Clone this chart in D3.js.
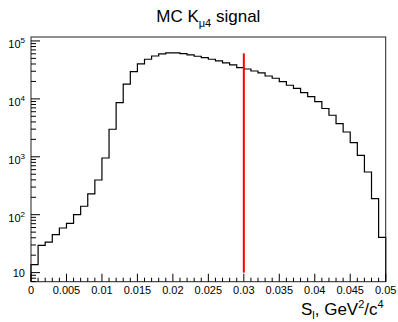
<!DOCTYPE html>
<html>
<head>
<meta charset="utf-8">
<script src="https://cdn.jsdelivr.net/npm/d3@7"></script>
<style>
  body { margin: 0; background: #fff; }
  svg { display: block; font-family: "Liberation Sans", Arial, sans-serif; }
</style>
</head>
<body>
<svg id="chart" width="398" height="322"></svg>
<script>
  // 50 bins of width 0.001 in S_l
  const BIN_WIDTH = 0.001;
  const counts = [
    13.7, 29.6, 33.7, 45.2, 58.9, 71, 100, 140, 228, 397,
    953, 2990, 8600, 17900, 29500, 40100, 48300, 55000, 59600, 62100,
    62100, 60400, 57300, 54400, 51500, 48300, 45200, 41700, 38500, 34600,
    32800, 30300, 28000, 24800, 22700, 19800, 17200, 15200, 12800, 10900,
    8950, 6820, 5210, 3730, 2680, 1750, 1060, 546, 189, 40.7
  ];
  const yDecades = [10, 100, 1000, 10000, 100000];
  const xTicks = [0, 0.005, 0.01, 0.015, 0.02, 0.025, 0.03, 0.035, 0.04, 0.045, 0.05];
  const cutX = 0.03;
  const cutRange = [10, 61000];

  const svg = d3.select("#chart");
  const L = 31, R = 385.7, T = 37, B = 281.7;

  const x = d3.scaleLinear().domain([0, 0.05]).range([L, R]);
  const y = d3.scaleLog().domain([6.97, 1.17e5]).range([B, T]);

  // histogram outline
  const pts = [[x(0), B]];
  counts.forEach((c, i) => {
    pts.push([x(i * BIN_WIDTH), y(c)]);
    pts.push([x((i + 1) * BIN_WIDTH), y(c)]);
  });
  pts.push([x(counts.length * BIN_WIDTH), B]);

  svg.append("path")
    .attr("d", d3.line()(pts))
    .attr("fill", "none")
    .attr("stroke", "#000")
    .attr("stroke-width", 1.2);

  // cut line
  svg.append("line")
    .attr("x1", x(cutX)).attr("x2", x(cutX))
    .attr("y1", y(cutRange[0])).attr("y2", y(cutRange[1]))
    .attr("stroke", "#ff0000")
    .attr("stroke-width", 2);

  // frame
  svg.append("rect")
    .attr("x", L).attr("y", T)
    .attr("width", R - L).attr("height", B - T)
    .attr("fill", "none")
    .attr("stroke", "#222")
    .attr("stroke-width", 1);

  // x ticks (drawn inward)
  const xMinor = d3.range(0, 51).map(i => i * 0.001);
  svg.append("g").selectAll("line").data(xMinor).join("line")
    .attr("x1", d => x(d)).attr("x2", d => x(d))
    .attr("y1", B)
    .attr("y2", (d, i) => B - (i % 5 === 0 ? 8 : 4))
    .attr("stroke", "#000");

  svg.append("g").selectAll("text").data(xTicks).join("text")
    .attr("x", d => x(d))
    .attr("y", 294)
    .attr("text-anchor", "middle")
    .style("font-size", "11px")
    .text(d => d === 0 ? "0" : d3.format("~g")(d));

  // y ticks
  const yMinor = [];
  [1, 10, 100, 1000, 10000, 100000].forEach(dec => {
    for (let k = 2; k <= 9; k++) {
      const v = dec * k;
      if (v > y.domain()[0] && v < y.domain()[1]) yMinor.push(v);
    }
  });
  svg.append("g").selectAll("line").data(yMinor).join("line")
    .attr("x1", L).attr("x2", L + 5)
    .attr("y1", d => y(d)).attr("y2", d => y(d))
    .attr("stroke", "#000");
  svg.append("g").selectAll("line").data(yDecades).join("line")
    .attr("x1", L).attr("x2", L + 9)
    .attr("y1", d => y(d)).attr("y2", d => y(d))
    .attr("stroke", "#000");

  const yl = svg.append("g").selectAll("text").data(yDecades).join("text")
    .attr("x", 25)
    .attr("y", d => y(d) + (d === 10 ? 4 : 7))
    .attr("text-anchor", "end")
    .style("font-size", "11px");
  yl.append("tspan").text("10");
  yl.filter(d => d !== 10).append("tspan")
    .attr("dy", -5)
    .style("font-size", "8px")
    .text(d => Math.round(Math.log10(d)));

  // title
  const title = svg.append("text")
    .attr("x", (L + R) / 2)
    .attr("y", 22)
    .attr("text-anchor", "middle")
    .style("font-size", "17px");
  title.append("tspan").text("MC K");
  title.append("tspan").attr("dy", 5).style("font-size", "11px").text("\u03bc4");
  title.append("tspan").attr("dy", -5).text(" signal");

  // x axis title
  const xt = svg.append("text")
    .attr("x", R - 2)
    .attr("y", 315)
    .attr("text-anchor", "end")
    .style("font-size", "17px");
  xt.append("tspan").text("S");
  xt.append("tspan").attr("dy", 4).style("font-size", "11px").text("l");
  xt.append("tspan").attr("dy", -4).text(", GeV");
  xt.append("tspan").attr("dy", -7).style("font-size", "11px").text("2");
  xt.append("tspan").attr("dy", 7).text("/c");
  xt.append("tspan").attr("dy", -7).style("font-size", "11px").text("4");
</script>
</body>
</html>
